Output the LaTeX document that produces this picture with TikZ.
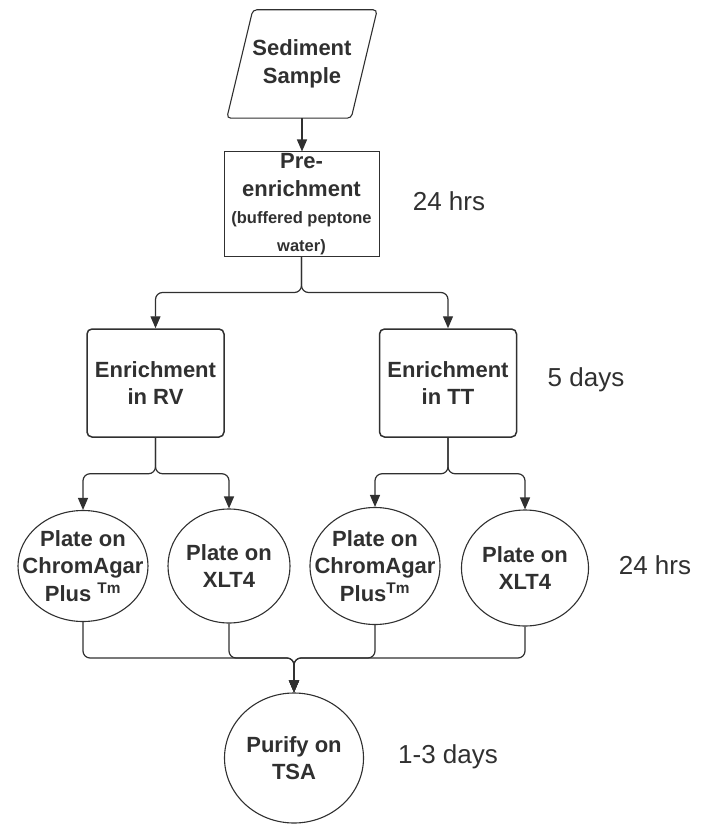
\documentclass[tikz,border=0pt]{standalone}
\usepackage{fontspec}
\setmainfont{Liberation Sans}
\usetikzlibrary{arrows.meta,shapes.geometric}
\definecolor{ink}{HTML}{303030}
\newcommand{\smalltxt}{\fontsize{16.5}{20}\selectfont}

\begin{document}
\begin{tikzpicture}[x=1pt, y=-1pt,
        every node/.style={text=ink, align=center},
        lbl/.style={font=\bfseries\fontsize{22}{27.5}\selectfont},
        box/.style={lbl, draw=ink, line width=1.5pt, minimum width=137pt, minimum height=108pt, inner sep=0pt},
        plate/.style={lbl, draw=ink, line width=1.1pt, ellipse, minimum width=128pt, minimum height=114pt, inner sep=-20pt},
        hrs/.style={font=\fontsize{26}{30}\selectfont},
        link/.style={draw=ink, line width=1.2pt, rounded corners=7pt},
        arr/.style={link, -{Triangle[width=10pt,length=12pt]}}]
    \useasboundingbox (0,0) rectangle (710,826);

    \node[lbl, minimum width=124pt, minimum height=108pt, inner sep=0pt] (sample) at (302,64) {Sediment\\Sample};
    \draw[ink, line width=1.1pt, rounded corners=4pt]
        ([xshift=-13pt]sample.south west) -- ([xshift=-13pt]sample.south east)
        -- ([xshift=13pt]sample.north east) -- ([xshift=13pt]sample.north west) -- cycle;
    \node[box, minimum width=155pt, minimum height=104pt, line width=1pt] (pre) at (301.5,204)
        {Pre-\\enrichment\\{\smalltxt (buffered peptone}\\{\smalltxt water)}};
    \node[box, rounded corners=5pt] (rv) at (155.5,383) {Enrichment\\in RV};
    \node[box, rounded corners=5pt] (tt) at (448,383) {Enrichment\\in TT};

    \node[plate, minimum width=130pt, minimum height=111pt] (rvchrom) at (83,566) {Plate on\\ChromAgar\\Plus \textsuperscript{Tm}};
    \node[plate, minimum width=122pt] (rvxlt) at (229,566) {Plate on\\XLT4};
    \node[plate, minimum width=130pt, minimum height=117pt] (ttchrom) at (375,566) {Plate on\\ChromAgar\\Plus\textsuperscript{Tm}};
    \node[plate, minimum width=127pt, minimum height=116pt] (ttxlt) at (525,568) {Plate on\\XLT4};
    \node[plate, minimum width=139pt, minimum height=130pt] (tsa) at (294,758) {Purify on\\TSA};

    \node[hrs] (pretime) at (449,201) {24 hrs};
    \node[hrs] (enrtime) at (586,380) {5 days};
    \node[hrs] (platetime) at (655,565) {24 hrs};
    \node[hrs] (tsatime) at (448,757) {1-3 days};

    \draw[arr] (sample.south) -- (sample.south |- pre.north);
    \draw[arr] (pre.south) -- ++(0,36) -| (rv.north);
    \draw[arr] (pre.south) -- ++(0,36) -| (tt.north);
    \draw[arr] (rv.south) -- ++(0,36) -| (rvchrom.north);
    \draw[arr] (rv.south) -- ++(0,36) -| (rvxlt.north);
    \draw[arr] (tt.south) -- ++(0,36) -| (ttchrom.north);
    \draw[arr] (tt.south) -- ++(0,36) -| (ttxlt.north);

    \coordinate (merge) at (294,658);
    \draw[arr] (rvchrom.south) |- (merge) -- (tsa.north);
    \draw[arr] (rvxlt.south) |- (merge) -- (tsa.north);
    \draw[arr] (ttchrom.south) |- (merge) -- (tsa.north);
    \draw[arr] (ttxlt.south) |- (merge) -- (tsa.north);
\end{tikzpicture}
\end{document}
